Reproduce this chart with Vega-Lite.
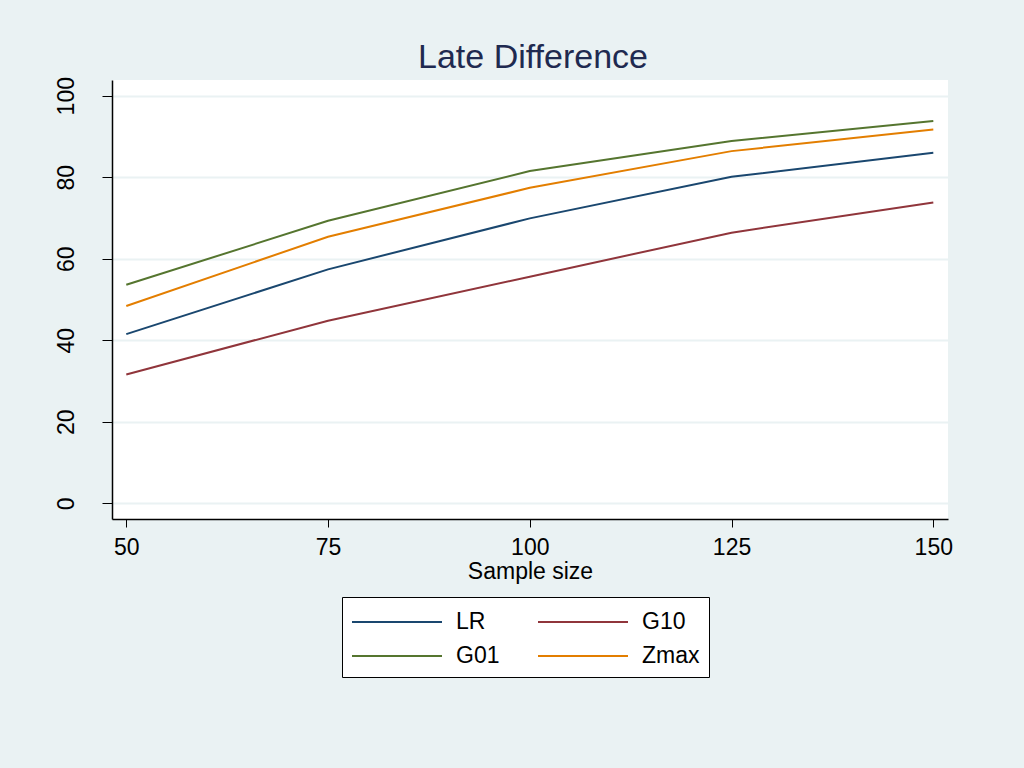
{
  "$schema": "https://vega.github.io/schema/vega-lite/v6.json",
  "autosize": {"type": "none"},
  "width": 836,
  "height": 439,
  "padding": {"left": 112, "top": 80, "right": 76, "bottom": 249},
  "background": "#EAF2F3",
  "config": {
    "font": "Liberation Sans",
    "view": {"fill": "white", "stroke": null}
  },
  "title": {
    "text": "Late Difference",
    "fontSize": 34,
    "fontWeight": "normal",
    "color": "#1F2A50",
    "anchor": "middle",
    "frame": "group",
    "baseline": "alphabetic",
    "offset": -25,
    "dx": 3
  },
  "data": {
    "values": [
      {"n": 50, "method": "LR", "value": 41.5},
      {"n": 75, "method": "LR", "value": 57.4},
      {"n": 100, "method": "LR", "value": 69.9},
      {"n": 125, "method": "LR", "value": 80.1},
      {"n": 150, "method": "LR", "value": 86.0},
      {"n": 50, "method": "G10", "value": 31.6},
      {"n": 75, "method": "G10", "value": 44.8},
      {"n": 100, "method": "G10", "value": 55.6},
      {"n": 125, "method": "G10", "value": 66.4},
      {"n": 150, "method": "G10", "value": 73.8},
      {"n": 50, "method": "G01", "value": 53.6},
      {"n": 75, "method": "G01", "value": 69.3},
      {"n": 100, "method": "G01", "value": 81.5},
      {"n": 125, "method": "G01", "value": 88.9},
      {"n": 150, "method": "G01", "value": 93.8},
      {"n": 50, "method": "Zmax", "value": 48.4},
      {"n": 75, "method": "Zmax", "value": 65.4},
      {"n": 100, "method": "Zmax", "value": 77.4},
      {"n": 125, "method": "Zmax", "value": 86.4},
      {"n": 150, "method": "Zmax", "value": 91.7}
    ]
  },
  "mark": {"type": "line", "strokeWidth": 2},
  "encoding": {
    "x": {
      "field": "n",
      "type": "quantitative",
      "scale": {"domain": [48.23, 151.82], "nice": false, "zero": false},
      "axis": {
        "title": "Sample size",
        "values": [50, 75, 100, 125, 150],
        "grid": false,
        "domainColor": "black",
        "domainWidth": 1.5,
        "tickColor": "black",
        "tickSize": 8,
        "labelFontSize": 23,
        "labelColor": "black",
        "labelBaseline": "top",
        "labelPadding": 9,
        "labelFlush": false,
        "titleFontSize": 23,
        "titleFontWeight": "normal",
        "titleColor": "black",
        "titlePadding": 1
      }
    },
    "y": {
      "field": "value",
      "type": "quantitative",
      "scale": {"domain": [-3.85, 103.85], "nice": false, "zero": false},
      "axis": {
        "title": null,
        "values": [0, 20, 40, 60, 80, 100],
        "grid": true,
        "gridColor": "#EAF2F3",
        "gridWidth": 2,
        "domainColor": "black",
        "domainWidth": 1.5,
        "tickColor": "black",
        "tickSize": 10,
        "labelFontSize": 23,
        "labelColor": "black",
        "labelAngle": -90,
        "labelAlign": "center",
        "labelBaseline": "alphabetic",
        "labelPadding": 29,
        "labelFlush": false
      }
    },
    "color": {
      "field": "method",
      "type": "nominal",
      "scale": {
        "domain": ["LR", "G10", "G01", "Zmax"],
        "range": ["#1A476F", "#90353B", "#55752F", "#E37E00"]
      },
      "legend": {
        "title": null,
        "orient": "none",
        "legendX": 230,
        "legendY": 517,
        "columns": 2,
        "direction": "horizontal",
        "symbolType": "M-1,0H5",
        "symbolSize": 900,
        "symbolStrokeWidth": 2,
        "labelFontSize": 23,
        "labelColor": "black",
        "labelOffset": 73,
        "columnPadding": 34,
        "rowPadding": 6,
        "padding": 9,
        "fillColor": "white",
        "strokeColor": "black"
      }
    }
  }
}
